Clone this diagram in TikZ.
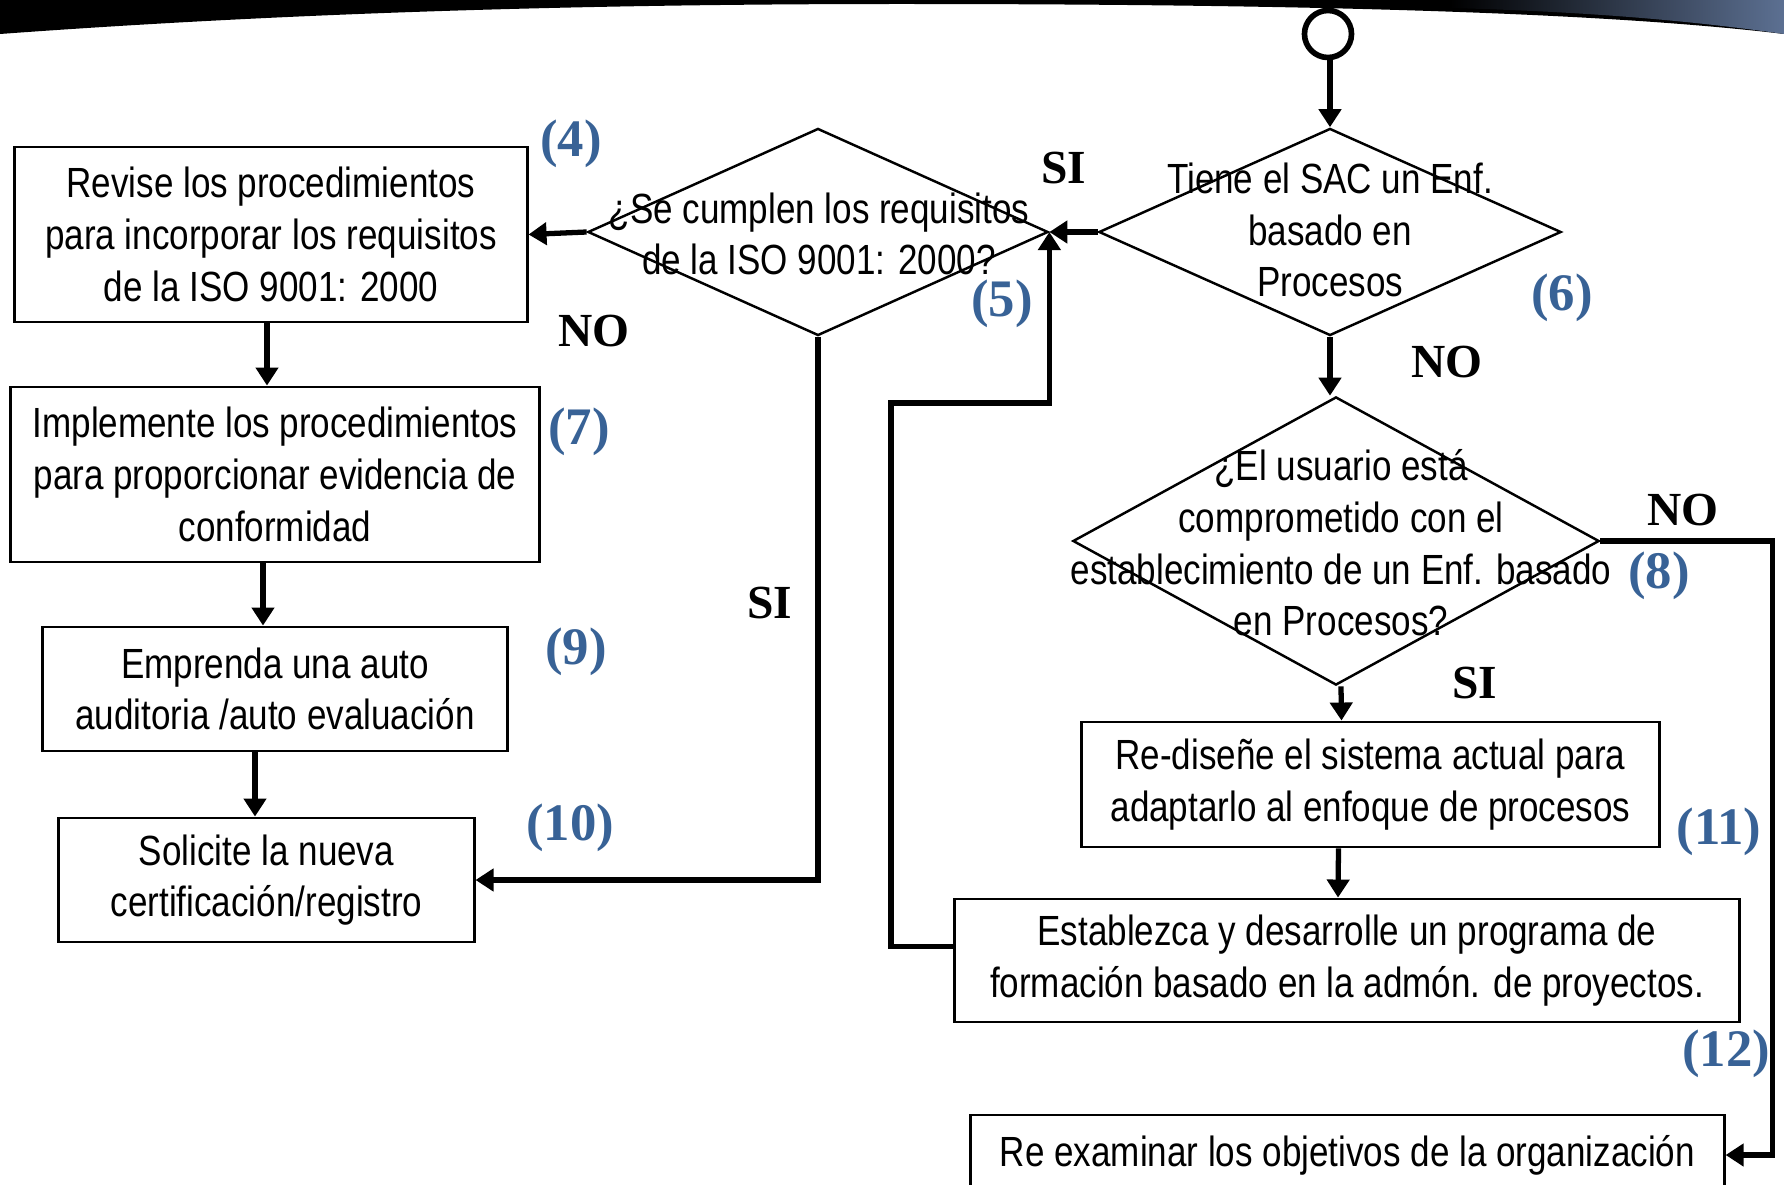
\documentclass[tikz,border=0pt]{standalone}
\usepackage{fontspec}
\setmainfont{Liberation Sans}[FakeStretch=0.83]
\newfontfamily\tagfont{Liberation Serif}
\usepackage{xcolor}
\usetikzlibrary{shapes.geometric,arrows.meta,calc}
\definecolor{tagblue}{RGB}{56,98,150}
\definecolor{bandslate}{RGB}{92,112,146}
\tikzset{
    box/.style={rectangle, draw, line width=0.8pt, align=center, font=\fontsize{12}{14.7}\selectfont, inner sep=0pt},
    decision/.style={diamond, draw, line width=0.7pt, inner sep=0pt},
    dtext/.style={align=center, font=\fontsize{12}{14.7}\selectfont, inner sep=0pt},
    start/.style={circle, draw, line width=1.6pt, minimum size=4.7mm, inner sep=0},
    flow/.style={-{Triangle[length=1.8mm, width=2.2mm]}, line width=1.5pt},
    answer/.style={font=\tagfont\bfseries\fontsize{13.5}{16}\selectfont},
    numtag/.style={text=tagblue, font=\tagfont\bfseries\fontsize{15}{18}\selectfont},
}
\begin{document}
\begin{tikzpicture}[x=0.01cm, y=-0.01cm]
    \useasboundingbox (0,0) rectangle (1784,1185);
    % slide band at the top
    \fill[black] (0,0) -- (0,34) .. controls (300,12) and (600,4) .. (900,4) .. controls (1300,4) and (1600,12) .. (1784,34) -- (1784,0) -- cycle;
    \shade[left color=black, right color=bandslate] (1450,0) -- (1450,8) .. controls (1600,12) and (1700,22) .. (1784,34) -- (1784,0) -- cycle;

    \node[start] (start) at (1328,34) {};
    \node[decision, minimum width=4.62cm, minimum height=2.07cm] (d6) at (1330,232) {};
    \node[dtext] (d6t) at (1330,230) {Tiene el SAC un Enf.\\basado en\\Procesos};
    \node[decision, minimum width=4.6cm, minimum height=2.07cm] (d5) at (818,232) {};
    \node[dtext] (d5t) at (819,234) {¿Se cumplen los requisitos\\de la ISO 9001: 2000?};
    \node[decision, minimum width=5.26cm, minimum height=2.88cm] (d8) at (1336,541) {};
    \node[dtext] (d8t) at (1341,543) {¿El usuario está\\comprometido con el\\establecimiento de un Enf. basado\\en Procesos?};

    \node[box, minimum width=5.12cm, minimum height=1.75cm] (b4) at (271,234.5) {Revise los procedimientos\\para incorporar los requisitos\\de la ISO 9001: 2000};
    \node[box, minimum width=5.28cm, minimum height=1.75cm] (b7) at (275,474.5) {Implemente los procedimientos\\para proporcionar evidencia de\\conformidad};
    \node[box, minimum width=4.64cm, minimum height=1.24cm] (b9) at (275,689) {Emprenda una auto\\auditoria /auto evaluación};
    \node[box, minimum width=4.15cm, minimum height=1.24cm] (b10) at (266.5,880) {Solicite la nueva\\certificación/registro};
    \node[box, minimum width=5.77cm, minimum height=1.25cm] (b11) at (1370.5,784.5) {Re-diseñe el sistema actual para\\adaptarlo al enfoque de procesos};
    \node[box, minimum width=7.84cm, minimum height=1.23cm] (b12) at (1347,960.5) {Establezca y desarrolle un programa de\\formación basado en la admón. de proyectos.};
    \node[box, minimum width=7.53cm, minimum height=0.8cm] (b13) at (1347.5,1155) {Re examinar los objetivos de la organización};

    \draw[flow] (start.south -| d6.north) -- (d6.north);
    \draw[flow] (d6.west) -- (d5.east);
    \draw[flow] (d5.west) -- (b4.east);
    \draw[flow] (d5.south) |- (b10.east);
    \draw[flow] (d6.south) -- (d6.south |- d8.north);
    \draw[flow] (d8.east) -- ++(172,0) |- (b13.east);
    \draw[flow] ($(d8.south)+(5,0)$) -- ($(b11.north)+(-29,0)$);
    \draw[flow] ($(b11.south)+(-32,0)$) -- ($(b12.north)+(-9,0)$);
    \draw[flow] ($(b12.west)+(0,-14)$) -| (891,403) -| (d5.east);
    \draw[flow] ($(b4.south)+(-4,0)$) -- ($(b7.north)+(-8,0)$);
    \draw[flow] ($(b7.south)+(-12,0)$) -- ($(b9.north)+(-12,0)$);
    \draw[flow] ($(b9.south)+(-20,0)$) -- ($(b10.north)+(-11.5,0)$);

    \node[answer] (si6) at (1064,168) {SI};
    \node[answer] (no5) at (594,331) {NO};
    \node[answer] (si5) at (770,603) {SI};
    \node[answer] (no6) at (1447,362) {NO};
    \node[answer] (no8) at (1683,510) {NO};
    \node[answer] (si8) at (1475,683) {SI};

    \node[numtag] (n4) at (571,144) {(4)};
    \node[numtag] (n5) at (1002,304) {(5)};
    \node[numtag] (n6) at (1562,298) {(6)};
    \node[numtag] (n7) at (579,432) {(7)};
    \node[numtag] (n8) at (1659,576) {(8)};
    \node[numtag] (n9) at (576,652) {(9)};
    \node[numtag] (n10) at (570,828) {(10)};
    \node[numtag] (n11) at (1719,832) {(11)};
    \node[numtag] (n12) at (1726,1054) {(12)};
\end{tikzpicture}
\end{document}
